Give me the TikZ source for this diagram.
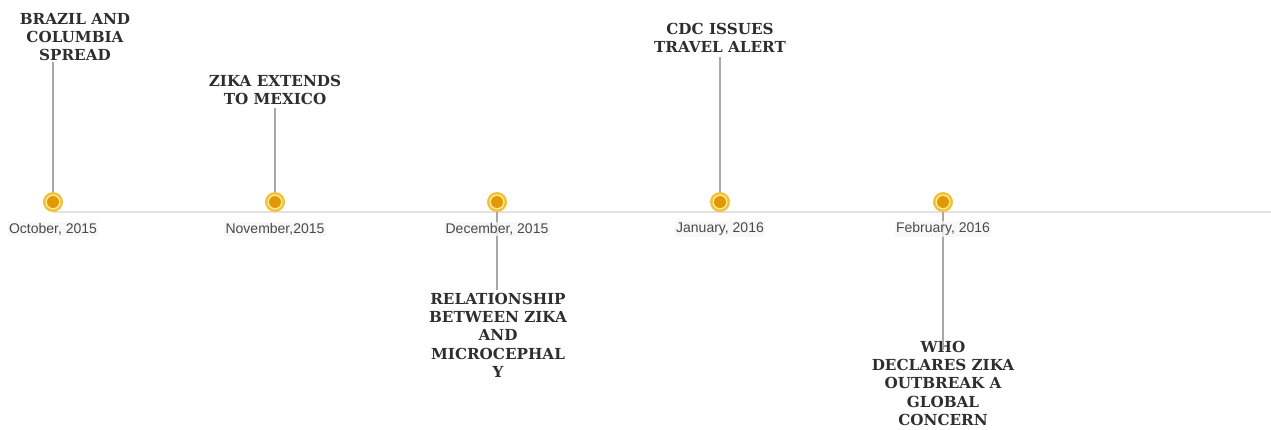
\documentclass[tikz,border=0pt]{standalone}
\usepackage{fontspec}
\newfontfamily\titlefont{DejaVu Serif}
\newfontfamily\datefont{Liberation Sans}
\definecolor{ringc}{HTML}{F2C230}
\definecolor{corec}{HTML}{E09A00}
\definecolor{stemc}{HTML}{A8A8A8}
\definecolor{axisc}{HTML}{E2E2E2}
\definecolor{txtc}{HTML}{2E2E2E}
\definecolor{datec}{HTML}{4A4A4A}
\tikzset{
  event/.style={font=\titlefont\bfseries\fontsize{15.2}{18.2}\selectfont, text=txtc, align=center, inner sep=0pt, anchor=north},
  datelbl/.style={font=\datefont\fontsize{14}{15}\selectfont, text=datec, fill=gray!7, fill opacity=0.8, text opacity=1, inner sep=1.5pt},
  stem/.style={draw=stemc, line width=1.8pt},
  axisline/.style={draw=axisc, line width=1.6pt},
  dotring/.style={circle, fill=ringc, minimum size=20pt, inner sep=0pt},
}
\begin{document}
\begin{tikzpicture}[x=1pt,y=-1pt]
\useasboundingbox (0,0) rectangle (1271,429);
% axis
\coordinate (axL) at (53,212);
\coordinate (axR) at (1271,212);
\draw[axisline] (axL) -- (axR);
% event texts
\node[event] (e1) at (75,13) {BRAZIL AND\\COLUMBIA\\SPREAD};
\node[event] (e2) at (275,75) {ZIKA EXTENDS\\TO MEXICO};
\node[event] (e3) at (498,293) {RELATIONSHIP\\BETWEEN ZIKA\\AND\\MICROCEPHAL\\Y};
\node[event] (e4) at (720,23) {CDC ISSUES\\TRAVEL ALERT};
\node[event] (e5) at (943,341) {WHO\\DECLARES ZIKA\\OUTBREAK A\\GLOBAL\\CONCERN};
% stem ends
\coordinate (s1) at (53,62);
\coordinate (s2) at (275,108);
\coordinate (s3) at (497,290);
\coordinate (s4) at (720,57);
\coordinate (s5) at (943,350);
% dots positions
\coordinate (p1) at (53,202);
\coordinate (p2) at (275,202);
\coordinate (p3) at (497,202);
\coordinate (p4) at (720,202);
\coordinate (p5) at (943,202);
% stems
\foreach \i in {1,...,5} { \draw[stem] (p\i) -- (s\i); }
% date labels
\node[datelbl] (d1) at (53,229) {October, 2015};
\node[datelbl] (d2) at (275,229) {November,2015};
\node[datelbl] (d3) at (497,229) {December, 2015};
\node[datelbl] (d4) at (720,229) {January, 2016};
\node[datelbl] (d5) at (943,229) {February, 2016};
% dots
\foreach \i in {1,...,5} {
  \node[dotring] (c\i) at (p\i) {};
  \fill[white!60!ringc] (p\i) circle (7.5pt);
  \fill[corec] (p\i) circle (6pt);
}
\end{tikzpicture}
\end{document}
